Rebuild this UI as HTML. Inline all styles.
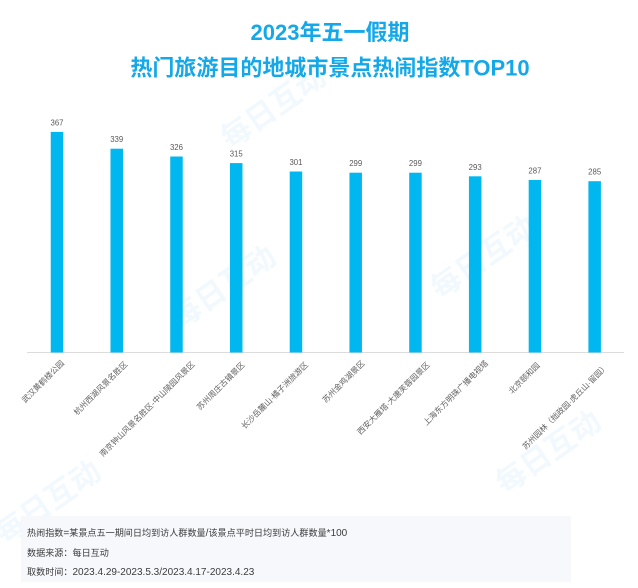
<!DOCTYPE html>
<html>
<head>
<meta charset="utf-8">
<style>
html,body{margin:0;padding:0;background:#fff;}
svg{display:block;}
</style>
</head>
<body>
<svg width="638" height="588" viewBox="0 0 638 588" xmlns="http://www.w3.org/2000/svg" font-family="'Liberation Sans','Noto Sans CJK SC',sans-serif">
  <rect width="638" height="588" fill="#ffffff"/>

  <!-- faint watermarks -->
  <g fill="#e8f5fd" font-weight="bold" font-size="30" opacity="0.6">
    <text transform="translate(180,330) rotate(-35)">每日互动</text>
    <text transform="translate(5,545) rotate(-35)">每日互动</text>
    <text transform="translate(505,495) rotate(-35)">每日互动</text>
    <text transform="translate(230,150) rotate(-35)">每日互动</text>
    <text transform="translate(440,300) rotate(-35)">每日互动</text>
  </g>

  <!-- title -->
  <g fill="#15a8e8" font-weight="bold" font-size="22" text-anchor="middle">
    <text x="330" y="40">2023年五一假期</text>
    <text x="330" y="75.5">热门旅游目的地城市景点热闹指数TOP10</text>
  </g>

  <!-- axis -->
  <line x1="27" y1="352.5" x2="624" y2="352.5" stroke="#dcdcdc" stroke-width="1"/>

  <!-- bars -->
  <g fill="#00b8ef">
    <rect x="50.75" y="131.9" width="12.5" height="220.6"/>
    <rect x="110.49" y="148.7" width="12.5" height="203.8"/>
    <rect x="170.23" y="156.5" width="12.5" height="196.0"/>
    <rect x="229.97" y="163.1" width="12.5" height="189.4"/>
    <rect x="289.71" y="171.5" width="12.5" height="181.0"/>
    <rect x="349.45" y="172.7" width="12.5" height="179.8"/>
    <rect x="409.19" y="172.7" width="12.5" height="179.8"/>
    <rect x="468.93" y="176.3" width="12.5" height="176.2"/>
    <rect x="528.67" y="180.0" width="12.5" height="172.5"/>
    <rect x="588.41" y="181.2" width="12.5" height="171.3"/>
  </g>

  <!-- value labels -->
  <g fill="#595959" font-size="7.8" text-anchor="middle">
    <text x="57" y="125.4">367</text>
    <text x="116.74" y="142.2">339</text>
    <text x="176.48" y="150">326</text>
    <text x="236.22" y="156.6">315</text>
    <text x="295.96" y="165">301</text>
    <text x="355.7" y="166.2">299</text>
    <text x="415.44" y="166.2">299</text>
    <text x="475.18" y="169.8">293</text>
    <text x="534.92" y="173.5">287</text>
    <text x="594.66" y="174.7">285</text>
  </g>

  <!-- category labels -->
  <g fill="#626262" font-size="8" text-anchor="end">
    <text transform="translate(64.7,363.7) rotate(-45)">武汉黄鹤楼公园</text>
    <text transform="translate(128,364.7) rotate(-45)">杭州西湖风景名胜区</text>
    <text transform="translate(195.3,364.7) rotate(-45)">南京钟山风景名胜区-中山陵园风景区</text>
    <text transform="translate(245.3,365.3) rotate(-45)">苏州周庄古镇景区</text>
    <text transform="translate(308.7,365.3) rotate(-45)">长沙岳麓山·橘子洲旅游区</text>
    <text transform="translate(365.3,363.7) rotate(-45)">苏州金鸡湖景区</text>
    <text transform="translate(430.3,365.3) rotate(-45)">西安大雁塔·大唐芙蓉园景区</text>
    <text transform="translate(488.7,363.7) rotate(-45)">上海东方明珠广播电视塔</text>
    <text transform="translate(540.3,366) rotate(-45)">北京颐和园</text>
    <text transform="translate(608.7,367) rotate(-45)">苏州园林（拙政园·虎丘山·留园）</text>
  </g>

  <!-- footer box -->
  <rect x="21" y="516" width="550" height="66" fill="#f6f8fc"/>
  <g fill="#3c3c3c" font-size="10">
    <text x="27" y="536"><tspan font-size="9.1">热闹指数</tspan>=<tspan font-size="9.1">某景点五一期间日均到访人群数量</tspan>/<tspan font-size="9.1">该景点平时日均到访人群数量</tspan>*100</text>
    <text x="27" y="556"><tspan font-size="9.1">数据来源：每日互动</tspan></text>
    <text x="27" y="575"><tspan font-size="9.1">取数时间：</tspan>2023.4.29-2023.5.3/2023.4.17-2023.4.23</text>
  </g>
</svg>
</body>
</html>
